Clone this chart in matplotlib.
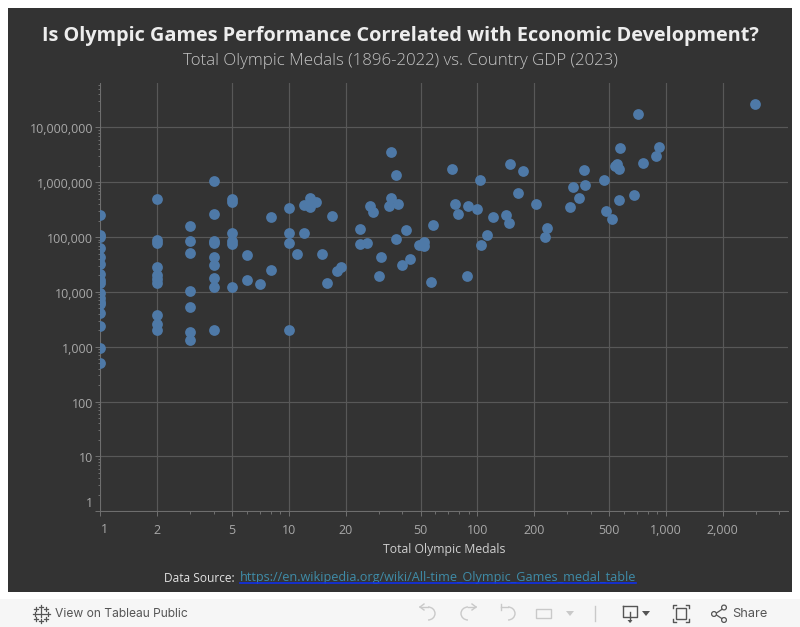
import numpy as np
import matplotlib
matplotlib.use('Agg')
import matplotlib.pyplot as plt
from matplotlib.patches import Rectangle, Circle, Arc, Polygon
from matplotlib.ticker import FixedLocator, FixedFormatter, NullFormatter
from matplotlib.transforms import ScaledTranslation

# total medals and GDP
medals_a = [1] * 17 + [2] * 10 + [3] * 7 + [4] * 9 + [5] * 6 + [6, 6, 7, 8, 8, 10, 10, 10, 10, 11, 12, 12, 13, 13, 13, 14, 15, 16, 17, 18, 19]
gdp_a = [256000, 110000, 100000, 62000, 44000, 32000, 21000, 16500, 14500, 9400, 7600, 6600, 6000, 4150, 2420, 940, 510,
         490000, 89000, 78000, 29000, 20500, 17500, 14500, 3800, 2600, 2030,
         158000, 85000, 52000, 10400, 5400, 1850, 1320,
         1050000, 262000, 85000, 79000, 44000, 31000, 18000, 12300, 2000,
         500000, 430000, 118000, 85000, 75000, 12300,
         47000, 16200, 13800, 229000, 25500, 340000, 118000, 78000, 2000, 49000, 380000, 118000,
         510000, 352000, 430000, 435000, 49000, 14700, 240000, 24000, 28000]
medals_b = [24, 24, 26, 27, 28, 30, 31, 35, 37, 35, 34, 38, 42, 37, 58, 52, 52, 49, 51, 44, 40, 57, 73, 76, 79, 89, 88]
gdp_b = [139000, 74000, 79000, 372000, 285000, 19500, 43000, 3600000, 1380000, 525000, 375000, 400000, 135000, 93000,
         167000, 82000, 69000, 72000, 72000, 40000, 31000, 15000, 1750000, 400000, 262000, 372000, 19500]
medals_c = [103, 100, 121, 142, 147, 112, 105, 149, 175, 165, 205, 234, 229, 310, 346, 321, 372, 368, 470, 482, 519,
            565, 678, 551, 537, 562, 572, 755, 887, 918, 713, 2971]
gdp_c = [1100000, 325000, 235000, 253000, 180000, 109000, 72000, 2160000, 1610000, 638000, 400000, 146000, 100000,
         355000, 515000, 822000, 893000, 1680000, 1100000, 299000, 214000, 475000, 586000, 2160000, 2000000, 1750000,
         4250000, 2260000, 3030000, 4420000, 17800000, 27000000]

x_ticks = [1, 2, 5, 10, 20, 50, 100, 200, 500, 1000, 2000]
x_labels = ['', '2', '5', '10', '20', '50', '100', '200', '500', '1,000', '2,000']
y_ticks = [1, 10, 100, 1000, 10000, 100000, 1000000, 10000000]
y_labels = ['', '10', '100', '1,000', '10,000', '100,000', '1,000,000', '10,000,000']

plt.rcParams['font.family'] = ['Open Sans', 'DejaVu Sans']

BG = '#333333'
GRID = '#585858'
TICK = '#a8a8a8'
DOT = '#4e79a7'

fig = plt.figure(figsize=(8, 6.27), dpi=100, facecolor='white')

# page layer in pixel coordinates, for the card, the texts and the toolbar
page = fig.add_axes([0, 0, 1, 1], zorder=0)
page.set_xlim(0, 800)
page.set_ylim(627, 0)
page.axis('off')
page.add_patch(Rectangle((8, 8), 784, 584, color=BG, lw=0))
page.add_patch(Rectangle((0, 599), 800, 28, color='#f6f6f6', lw=0))

page.text(400, 35.5, 'Is Olympic Games Performance Correlated with Economic Development?',
          ha='center', va='center', fontsize=14.3, fontweight='bold', color='#ededed')
page.text(400, 61, 'Total Olympic Medals (1896-2022) vs. Country GDP (2023)',
          ha='center', va='center', fontsize=12.2, color='#c4c4c4', fontweight='light')
page.text(444, 549, 'Total Olympic Medals', ha='center', va='center', fontsize=8.8, color='#cfcfcf')
page.text(238, 578, 'Data Source: ', ha='right', va='center', fontsize=8.6, color='#e2e2e2')
page.text(240, 578, 'https://en.wikipedia.org/wiki/All-time_Olympic_Games_medal_table',
          ha='left', va='center', fontsize=9.1, color='#3f8ca8')
page.plot([240, 636], [582.5, 582.5], color='#0f2fe8', lw=1.2, zorder=5)

# chart
ax = fig.add_axes([100.3 / 800, 1 - 511.3 / 627, (788 - 100.3) / 800, (511.3 - 83) / 627], zorder=1)
ax.patch.set_visible(False)
ax.set_xscale('log')
ax.set_yscale('log')
ax.set_xlim(1, 4449)
ax.set_ylim(1, 6.46e7)
for side in ['top', 'right']:
    ax.spines[side].set_visible(False)
for side in ['left', 'bottom']:
    ax.spines[side].set_color('#6e6e6e')
    ax.spines[side].set_linewidth(0.72)

ax.xaxis.set_major_locator(FixedLocator(x_ticks))
ax.xaxis.set_major_formatter(FixedFormatter(x_labels))
ax.yaxis.set_major_locator(FixedLocator(y_ticks))
ax.yaxis.set_major_formatter(FixedFormatter(y_labels))
x_minor = [m * 10 ** e for e in range(4) for m in [3, 4, 6, 7, 8, 9]]
x_minor = [v for v in x_minor if v < 4449] + [3000, 4000]
y_minor = [m * 10 ** e for e in range(8) for m in range(2, 10)]
ax.xaxis.set_minor_locator(FixedLocator(x_minor))
ax.yaxis.set_minor_locator(FixedLocator([v for v in y_minor if v < 6.46e7]))
ax.xaxis.set_minor_formatter(NullFormatter())
ax.yaxis.set_minor_formatter(NullFormatter())
ax.tick_params(axis='both', which='major', length=3.5, width=0.72, color='#6e6e6e', labelcolor=TICK, labelsize=9, pad=1.5)
ax.tick_params(axis='x', which='major', pad=6)
ax.tick_params(axis='both', which='minor', length=1.8, width=0.72, color='#6e6e6e')
# y labels sit one pixel lower in the original
for lab in ax.get_yticklabels():
    lab.set_transform(lab.get_transform() + ScaledTranslation(0, -1 / 100, fig.dpi_scale_trans))
ax.grid(True, which='major', color=GRID, lw=0.85)
ax.set_axisbelow(True)

ax.scatter(medals_a + medals_b + medals_c, gdp_a + gdp_b + gdp_c, s=60, color=DOT, linewidths=0, zorder=3, clip_on=True)

# first labels sit inside the plot edge in the original
page.text(93.5, 503.5, '1', ha='right', va='center', fontsize=9, color=TICK)
page.text(104, 529.5, '1', ha='center', va='center', fontsize=9, color=TICK)

# toolbar
INK = '#555555'
FAINT = '#c9c9c9'
page.text(55, 614, 'View on Tableau Public', ha='left', va='center', fontsize=8.7, color=INK, family=['Inter', 'DejaVu Sans'])
page.text(732, 614, 'Share', ha='left', va='center', fontsize=9.2, color=INK, family=['Inter', 'DejaVu Sans'])

# logo
for cx, cy, r in [(41, 613.5, 3.5), (34.5, 613.5, 2), (47.5, 613.5, 2), (41, 606.5, 2), (41, 620.5, 2),
                  (36, 608.5, 2), (46, 608.5, 2), (36, 618.5, 2), (46, 618.5, 2)]:
    page.plot([cx - r, cx + r], [cy, cy], color=INK, lw=0.9)
    page.plot([cx, cx], [cy - r, cy + r], color=INK, lw=0.9)

# undo / redo / revert / refresh
page.add_patch(Arc((428, 613.5), 14, 13, theta1=-90, theta2=90, color=FAINT, lw=1))
page.plot([421, 428], [607, 607], color=FAINT, lw=1)
page.plot([420, 424], [607, 604], color=FAINT, lw=1)
page.plot([420, 424], [607, 610], color=FAINT, lw=1)
page.add_patch(Arc((468, 613.5), 14, 13, theta1=90, theta2=270, color=FAINT, lw=1))
page.plot([468, 475], [607, 607], color=FAINT, lw=1)
page.plot([476, 472], [607, 604], color=FAINT, lw=1)
page.plot([476, 472], [607, 610], color=FAINT, lw=1)
page.add_patch(Arc((508, 613.5), 14, 13, theta1=-90, theta2=90, color=FAINT, lw=1))
page.plot([501, 508], [607, 607], color=FAINT, lw=1)
page.plot([501, 501], [604, 610], color=FAINT, lw=1)
page.add_patch(Rectangle((536, 609), 15, 9, fill=False, ec=FAINT, lw=1))
page.add_patch(Polygon([[566, 611], [574, 611], [570, 616]], color=FAINT, lw=0))
page.plot([595, 595], [606, 621], color=FAINT, lw=1)

# download, fullscreen, share
page.plot([623, 623, 637, 637, 623], [606, 617, 617, 606, 606], color=INK, lw=1)
page.plot([630, 630], [612, 621], color=INK, lw=1)
page.add_patch(Polygon([[627.5, 620], [632.5, 620], [630, 623]], color=INK, lw=0))
page.add_patch(Polygon([[642, 611], [650, 611], [646, 616]], color=INK, lw=0))
page.add_patch(Rectangle((676, 608), 10, 11, fill=False, ec=INK, lw=1))
for px, py, dx, dy in [(673, 605, 1, 1), (689, 605, -1, 1), (673, 622, 1, -1), (689, 622, -1, -1)]:
    page.plot([px + 3 * dx, px, px], [py, py, py + 3 * dy], color=INK, lw=1)
page.plot([715, 724], [614, 608], color=INK, lw=0.9)
page.plot([715, 724], [614, 620], color=INK, lw=0.9)
for cx, cy in [(714, 614), (724, 607.5), (724, 620)]:
    page.add_patch(Circle((cx, cy), 2.4, fc='#f6f6f6', ec=INK, lw=0.9, zorder=4))

fig.savefig('out.png', dpi=100, facecolor='white')
